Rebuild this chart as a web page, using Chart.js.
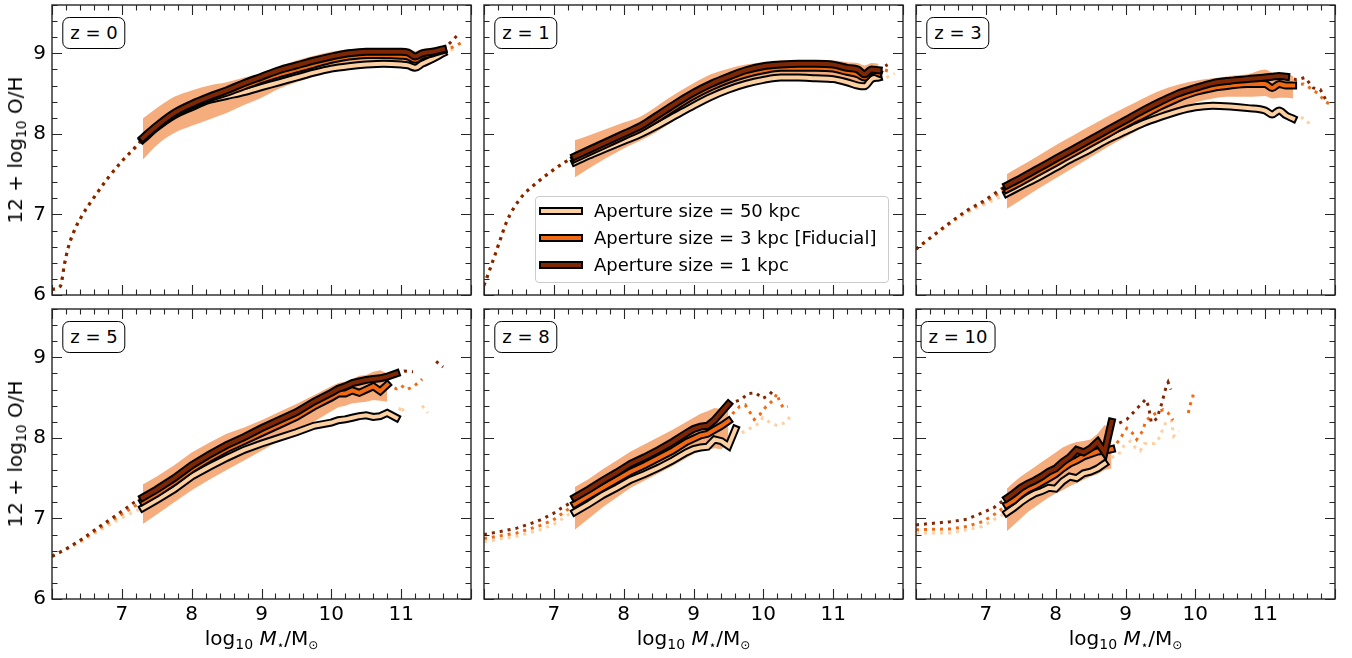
<!DOCTYPE html>
<html>
<head>
<meta charset="utf-8">
<script src="https://cdn.jsdelivr.net/npm/chart.js@4.4.1/dist/chart.umd.min.js"></script>
<style>
body { margin: 0; background: #fff; }
#fig { position: relative; width: 1352px; height: 658px; overflow: hidden; font-family: 'DejaVu Sans', sans-serif; color: #000; }
#fig canvas { position: absolute; }
.zlab { position: absolute; transform: translate(-50%, -50%); border: 1px solid #000; border-radius: 7px; padding: 0 7px; font-size: 18px; line-height: 30px; white-space: nowrap; background: #fff; }
.xt { position: absolute; transform: translateX(-50%); font-size: 20px; line-height: 20px; white-space: nowrap; }
.yt { position: absolute; transform: translate(-50%, -50%) rotate(-90deg); font-size: 20px; line-height: 20px; white-space: nowrap; }
sub { font-size: 14px; line-height: 0; vertical-align: -4px; }
.sym { font-size: 12px; line-height: 0; vertical-align: -4px; }
#legend { position: absolute; left: 535px; top: 196px; width: 354px; height: 87px; box-sizing: border-box; border: 1px solid #cccccc; border-radius: 4px; background: rgba(255,255,255,0.8); font-size: 18px; z-index: 5; }
#legend .row { position: absolute; left: 0; width: 100%; height: 20px; }
#legend .sw { position: absolute; left: 3px; top: 6px; width: 40px; height: 4px; border: 2px solid #000; }
#legend .tx { position: absolute; left: 58px; top: 0; line-height: 20px; white-space: nowrap; }
</style>
</head>
<body>
<div id="fig"></div>
<script>
// axis ticks
const xTicks = [7, 8, 9, 10, 11];
const yTicks = [6, 7, 8, 9];

// colours (Oranges)
const C_LIGHT = '#fdd0a2';   // 50 kpc
const C_MID = '#f16913';     // 3 kpc (fiducial)
const C_DARK = '#7f2704';    // 1 kpc
const SHADE = '#f6ad7d';

const legendLabels = ['Aperture size = 50 kpc', 'Aperture size = 3 kpc [Fiducial]', 'Aperture size = 1 kpc'];

// ---- z = 0 ----
const z0X     = [7.3, 7.5, 7.75, 8.0, 8.25, 8.5, 8.75, 9.0, 9.25, 9.5, 9.75, 10.0, 10.25, 10.5, 10.75, 11.0, 11.1, 11.2, 11.3, 11.45, 11.6];
const z0Dark  = [7.95, 8.10, 8.26, 8.37, 8.46, 8.54, 8.63, 8.71, 8.79, 8.85, 8.91, 8.96, 9.00, 9.02, 9.02, 9.02, 9.01, 8.96, 9.00, 9.02, 9.05];
const z0Mid   = [7.94, 8.09, 8.24, 8.35, 8.44, 8.51, 8.59, 8.67, 8.74, 8.80, 8.86, 8.92, 8.96, 8.98, 8.98, 8.97, 8.96, 8.92, 8.97, 9.00, 9.04];
const z0Light = [7.93, 8.08, 8.23, 8.33, 8.42, 8.47, 8.52, 8.58, 8.64, 8.70, 8.76, 8.81, 8.84, 8.86, 8.87, 8.86, 8.85, 8.82, 8.87, 8.93, 9.00];
const z0Hi    = [8.19, 8.32, 8.46, 8.54, 8.60, 8.64, 8.70, 8.75, 8.83, 8.91, 8.97, 9.02, 9.05, 9.06, 9.06, 9.06, 9.05, 9.03, 9.05, 9.07, 9.07];
const z0Lo    = [7.68, 7.86, 8.01, 8.10, 8.18, 8.26, 8.36, 8.45, 8.56, 8.64, 8.71, 8.78, 8.82, 8.85, 8.85, 8.85, 8.83, 8.79, 8.86, 8.93, 8.98];
const z0Left  = [[6.0, 6.07], [6.12, 6.11], [6.18, 6.39], [6.23, 6.58], [6.3, 6.76], [6.42, 6.97], [6.6, 7.21], [6.8, 7.45], [7.0, 7.66], [7.2, 7.84], [7.3, 7.94]];
const z0RightDark  = [[11.6, 9.05], [11.7, 9.13], [11.8, 9.22], [11.85, 9.25]];
const z0RightMid   = [[11.6, 9.04], [11.75, 9.08], [11.9, 9.15]];
const z0RightLight = [[11.6, 9.00], [11.7, 9.04], [11.8, 9.06]];

// ---- z = 1 ----
const z1X     = [7.3, 7.5, 7.75, 8.0, 8.25, 8.5, 8.75, 9.0, 9.25, 9.5, 9.75, 10.0, 10.25, 10.5, 10.75, 11.0, 11.2, 11.35, 11.45, 11.55, 11.65];
const z1Dark  = [7.72, 7.80, 7.90, 8.00, 8.10, 8.24, 8.38, 8.51, 8.62, 8.71, 8.79, 8.84, 8.86, 8.87, 8.87, 8.86, 8.82, 8.80, 8.74, 8.80, 8.79];
const z1Mid   = [7.69, 7.77, 7.87, 7.97, 8.07, 8.20, 8.34, 8.47, 8.58, 8.67, 8.74, 8.79, 8.82, 8.82, 8.82, 8.81, 8.77, 8.74, 8.70, 8.78, 8.75];
const z1Light = [7.65, 7.73, 7.82, 7.91, 8.00, 8.11, 8.23, 8.35, 8.46, 8.55, 8.62, 8.67, 8.70, 8.70, 8.69, 8.68, 8.64, 8.60, 8.59, 8.68, 8.70];
const z1Hi    = [7.92, 7.98, 8.06, 8.14, 8.22, 8.36, 8.50, 8.63, 8.74, 8.81, 8.86, 8.89, 8.91, 8.91, 8.91, 8.91, 8.89, 8.88, 8.85, 8.88, 8.87];
const z1Lo    = [7.46, 7.57, 7.70, 7.82, 7.92, 8.04, 8.18, 8.31, 8.43, 8.53, 8.60, 8.66, 8.69, 8.70, 8.70, 8.68, 8.64, 8.62, 8.62, 8.68, 8.70];
const z1Left  = [[6.0, 6.12], [6.06, 6.26], [6.13, 6.43], [6.23, 6.68], [6.32, 6.90], [6.42, 7.07], [6.56, 7.24], [6.71, 7.36], [6.85, 7.46], [7.02, 7.57], [7.18, 7.66], [7.3, 7.71]];
const z1RightDark  = [[11.65, 8.79], [11.72, 8.83], [11.78, 8.86]];
const z1RightMid   = [[11.65, 8.75], [11.72, 8.80], [11.85, 8.76]];
const z1RightLight = [[11.65, 8.70], [11.74, 8.69], [11.88, 8.75]];

// ---- z = 3 ----
const z3X     = [7.3, 7.5, 7.75, 8.0, 8.25, 8.5, 8.75, 9.0, 9.25, 9.5, 9.75, 10.0, 10.25, 10.5, 10.75, 11.0, 11.1, 11.2, 11.3, 11.4];
const z3Dark  = [7.36, 7.45, 7.57, 7.69, 7.81, 7.93, 8.05, 8.17, 8.29, 8.40, 8.50, 8.57, 8.63, 8.66, 8.68, 8.70, 8.71, 8.72, 8.71, null];
const z3Mid   = [7.31, 7.40, 7.52, 7.64, 7.76, 7.88, 8.00, 8.12, 8.23, 8.34, 8.44, 8.52, 8.57, 8.60, 8.62, 8.62, 8.57, 8.62, 8.60, 8.60];
const z3Light = [7.26, 7.35, 7.46, 7.58, 7.70, 7.81, 7.93, 8.03, 8.13, 8.21, 8.28, 8.33, 8.35, 8.34, 8.32, 8.29, 8.24, 8.29, 8.23, 8.19];
const z3Hi    = [7.50, 7.60, 7.73, 7.86, 7.98, 8.10, 8.22, 8.33, 8.44, 8.54, 8.61, 8.66, 8.69, 8.72, 8.74, 8.80, 8.76, 8.75, 8.74, 8.72];
const z3Lo    = [7.07, 7.18, 7.32, 7.45, 7.58, 7.71, 7.84, 7.96, 8.08, 8.20, 8.31, 8.39, 8.44, 8.46, 8.46, 8.47, 8.44, 8.45, 8.45, 8.44];
const z3LeftDark  = [[6.0, 6.57], [6.25, 6.74], [6.49, 6.90], [6.73, 7.05], [6.97, 7.17], [7.21, 7.31], [7.3, 7.36]];
const z3LeftMid   = [[6.0, 6.57], [6.25, 6.74], [6.49, 6.90], [6.73, 7.04], [6.97, 7.15], [7.21, 7.27], [7.3, 7.31]];
const z3LeftLight = [[6.0, 6.57], [6.25, 6.73], [6.49, 6.88], [6.73, 7.02], [6.97, 7.12], [7.21, 7.22], [7.3, 7.26]];
const z3RightDark  = [[11.3, 8.71], [11.45, 8.67], [11.57, 8.70], [11.69, 8.57], [11.79, 8.55], [11.87, 8.42]];
const z3RightMid   = [[11.4, 8.60], [11.55, 8.62], [11.66, 8.56], [11.76, 8.50], [11.86, 8.40], [11.95, 8.36]];
const z3RightLight = [[11.4, 8.19], [11.5, 8.21], [11.6, 8.17], [11.66, 8.07]];

// ---- z = 5 ----
const z5X     = [7.3, 7.5, 7.75, 8.0, 8.25, 8.5, 8.75, 9.0, 9.25, 9.5, 9.75, 10.0, 10.1, 10.2, 10.3, 10.4, 10.5, 10.6, 10.7, 10.8, 10.93];
const z5Dark  = [7.26, 7.36, 7.50, 7.66, 7.79, 7.91, 8.01, 8.12, 8.22, 8.32, 8.45, 8.56, 8.61, 8.64, 8.68, 8.70, 8.72, 8.73, 8.74, 8.76, 8.80];
const z5Mid   = [7.21, 7.31, 7.45, 7.61, 7.74, 7.86, 7.96, 8.06, 8.16, 8.26, 8.39, 8.50, 8.55, 8.55, 8.59, 8.56, 8.60, 8.64, 8.58, 8.66, null];
const z5Light = [7.13, 7.23, 7.36, 7.52, 7.64, 7.75, 7.85, 7.93, 8.00, 8.07, 8.15, 8.19, 8.22, 8.23, 8.25, 8.27, 8.28, 8.26, 8.27, 8.31, 8.25];
const z5Hi    = [7.42, 7.52, 7.66, 7.82, 7.94, 8.05, 8.13, 8.22, 8.32, 8.42, 8.53, 8.64, 8.68, 8.70, 8.73, 8.77, 8.78, 8.82, 8.84, 8.80, null];
const z5Lo    = [6.93, 7.05, 7.20, 7.35, 7.48, 7.60, 7.72, 7.84, 7.96, 8.06, 8.20, 8.33, 8.38, 8.40, 8.43, 8.44, 8.45, 8.47, 8.46, 8.45, null];
const z5LeftDark  = [[6.0, 6.53], [6.2, 6.62], [6.44, 6.75], [6.68, 6.90], [6.92, 7.04], [7.16, 7.19], [7.3, 7.26]];
const z5LeftMid   = [[6.0, 6.53], [6.2, 6.62], [6.44, 6.74], [6.68, 6.88], [6.92, 7.01], [7.16, 7.14], [7.3, 7.21]];
const z5LeftLight = [[6.0, 6.53], [6.2, 6.61], [6.44, 6.72], [6.68, 6.85], [6.92, 6.97], [7.16, 7.08], [7.3, 7.13]];
const z5RightDark  = [[10.93, 8.80], [11.05, 8.83], [11.17, 8.82], [11.3, null], [11.5, 8.95], [11.6, 8.88]];
const z5RightMid   = [[10.8, 8.66], [10.93, 8.61], [11.0, 8.65], [11.08, 8.60], [11.18, 8.64], [11.3, 8.73]];
const z5RightLight = [[10.93, 8.25], [11.0, 8.40], [11.06, 8.27], [11.2, null], [11.3, 8.40], [11.38, 8.31]];

// ---- z = 8 ----
const z8X     = [7.3, 7.5, 7.7, 7.9, 8.1, 8.3, 8.5, 8.7, 8.9, 9.0, 9.1, 9.2, 9.3, 9.4, 9.5, 9.6];
const z8Dark  = [7.26, 7.36, 7.47, 7.57, 7.68, 7.76, 7.85, 7.95, 8.06, 8.11, 8.14, 8.15, 8.22, 8.32, 8.42, null];
const z8Mid   = [7.18, 7.28, 7.38, 7.48, 7.58, 7.66, 7.75, 7.84, 7.95, 7.99, 8.03, 8.05, 8.10, 8.15, 8.21, null];
const z8Light = [7.08, 7.18, 7.29, 7.38, 7.48, 7.55, 7.63, 7.72, 7.82, 7.86, 7.88, 7.89, 7.98, 7.96, 7.90, 8.11];
const z8Hi    = [7.39, 7.49, 7.61, 7.72, 7.83, 7.92, 8.01, 8.10, 8.20, 8.25, 8.30, 8.33, 8.37, 8.36, 8.33, null];
const z8Lo    = [6.86, 7.00, 7.14, 7.26, 7.38, 7.47, 7.56, 7.65, 7.75, 7.80, 7.84, 7.85, 7.87, 7.86, 7.95, null];
const z8LeftDark  = [[6.0, 6.80], [6.25, 6.84], [6.47, 6.88], [6.68, 6.94], [6.8, 6.98], [6.99, 7.06], [7.11, 7.13], [7.23, 7.19], [7.3, 7.26]];
const z8LeftMid   = [[6.0, 6.75], [6.47, 6.82], [6.8, 6.91], [6.99, 6.98], [7.23, 7.13], [7.3, 7.18]];
const z8LeftLight = [[6.0, 6.71], [6.47, 6.78], [6.8, 6.86], [6.99, 6.92], [7.23, 7.06], [7.3, 7.08]];
const z8RightDark  = [[9.5, 8.42], [9.57, 8.44], [9.69, 8.48], [9.78, 8.55], [9.89, 8.56], [9.99, 8.49], [10.08, 8.53], [10.16, 8.61]];
const z8RightMid   = [[9.5, 8.21], [9.57, 8.31], [9.66, 8.39], [9.74, 8.41], [9.80, 8.33], [9.87, 8.23], [9.95, 8.29], [10.04, 8.39], [10.13, 8.46], [10.2, 8.55], [10.23, 8.45], [10.29, 8.37], [10.35, 8.39]];
const z8RightLight = [[9.6, 8.11], [9.66, 8.06], [9.74, 8.08], [9.85, 8.14], [9.94, 8.18], [9.99, 8.25], [10.08, 8.20], [10.2, 8.15], [10.31, 8.19], [10.38, 8.26]];

// ---- z = 10 ----
const z10X     = [7.3, 7.4, 7.5, 7.6, 7.7, 7.8, 7.9, 8.0, 8.1, 8.2, 8.3, 8.4, 8.5, 8.6, 8.7, 8.8];
const z10Dark  = [7.25, 7.31, 7.38, 7.43, 7.47, 7.52, 7.58, 7.62, 7.70, 7.76, 7.85, 7.82, 7.87, 7.95, 7.82, 8.20];
const z10Mid   = [7.17, 7.22, 7.30, 7.36, 7.40, 7.45, 7.50, 7.55, 7.62, 7.68, 7.72, 7.77, 7.80, 7.83, 7.84, 7.86];
const z10Light = [7.07, 7.13, 7.20, 7.26, 7.31, 7.34, 7.38, 7.37, 7.46, 7.52, 7.50, 7.56, 7.58, 7.62, 7.68, null];
const z10Hi    = [7.37, 7.45, 7.52, 7.58, 7.64, 7.70, 7.76, 7.82, 7.88, 7.92, 7.95, 7.96, 7.98, 8.05, 8.16, 8.10];
const z10Lo    = [6.84, 6.92, 7.00, 7.08, 7.14, 7.20, 7.26, 7.31, 7.35, 7.40, 7.44, 7.48, 7.52, 7.55, 7.60, 7.62];
const z10LeftDark  = [[6.0, 6.92], [6.49, 6.96], [6.73, 6.99], [6.92, 7.06], [7.11, 7.13], [7.23, 7.21], [7.3, 7.25]];
const z10LeftMid   = [[6.0, 6.86], [6.49, 6.87], [6.73, 6.90], [6.95, 6.96], [7.16, 7.07], [7.3, 7.17]];
const z10LeftLight = [[6.0, 6.82], [6.49, 6.82], [6.73, 6.86], [6.95, 6.90], [7.16, 7.01], [7.3, 7.07]];
const z10RightDark  = [[8.8, 8.20], [8.9, 8.18], [9.02, 8.23], [9.29, 8.48], [9.33, 8.39], [9.37, 8.19], [9.45, 8.24], [9.52, 8.43], [9.55, 8.53], [9.58, 8.63], [9.61, 8.69], [9.65, 8.60]];
const z10RightMid   = [[8.8, 7.86], [8.92, 7.98], [8.97, 8.06], [9.02, 8.12], [9.10, 8.06], [9.16, 7.98], [9.25, 8.09], [9.28, 8.19], [9.35, 8.26], [9.44, 8.31], [9.54, 8.35], [9.61, 8.31], [9.68, 8.22], [9.8, null], [9.90, 8.31], [9.92, 8.40], [9.96, 8.49], [9.98, 8.59]];
const z10RightLight = [[8.73, 7.68], [8.80, 7.76], [8.90, 7.79], [8.95, 7.88], [9.07, 7.96], [9.14, 7.88], [9.21, 7.84], [9.27, 7.93], [9.34, 7.93], [9.42, 7.93], [9.50, 8.02], [9.53, 8.11], [9.59, 8.21], [9.66, 8.21], [9.69, 8.02], [9.77, 8.08]];

const panels = [
    { col: 0, row: 0, label: 'z = 0', x: z0X, dark: z0Dark, mid: z0Mid, light: z0Light, hi: z0Hi, lo: z0Lo,
      left: [z0Left, z0Left, z0Left], right: [z0RightDark, z0RightMid, z0RightLight], smooth: true },
    { col: 1, row: 0, label: 'z = 1', x: z1X, dark: z1Dark, mid: z1Mid, light: z1Light, hi: z1Hi, lo: z1Lo,
      left: [z1Left, z1Left, z1Left], right: [z1RightDark, z1RightMid, z1RightLight], smooth: true },
    { col: 2, row: 0, label: 'z = 3', x: z3X, dark: z3Dark, mid: z3Mid, light: z3Light, hi: z3Hi, lo: z3Lo,
      left: [z3LeftDark, z3LeftMid, z3LeftLight], right: [z3RightDark, z3RightMid, z3RightLight], smooth: true },
    { col: 0, row: 1, label: 'z = 5', x: z5X, dark: z5Dark, mid: z5Mid, light: z5Light, hi: z5Hi, lo: z5Lo,
      left: [z5LeftDark, z5LeftMid, z5LeftLight], right: [z5RightDark, z5RightMid, z5RightLight], smooth: false },
    { col: 1, row: 1, label: 'z = 8', x: z8X, dark: z8Dark, mid: z8Mid, light: z8Light, hi: z8Hi, lo: z8Lo,
      left: [z8LeftDark, z8LeftMid, z8LeftLight], right: [z8RightDark, z8RightMid, z8RightLight], smooth: false },
    { col: 2, row: 1, label: 'z = 10', x: z10X, dark: z10Dark, mid: z10Mid, light: z10Light, hi: z10Hi, lo: z10Lo,
      left: [z10LeftDark, z10LeftMid, z10LeftLight], right: [z10RightDark, z10RightMid, z10RightLight], smooth: false }
];

// layout (page pixels)
const colLeft = [52, 484, 916];
const rowTop = [5, 309];
const plotW = 419, plotH = 290;
const padL = 52, padT = 5, padR = 6, padB = 55;

const fig = document.getElementById('fig');
const tickFont = { family: "'DejaVu Sans', sans-serif", size: 20 };

function pts(xs, ys) { return xs.map((x, i) => ({ x: x, y: ys[i] })); }
function pairs(arr) { return arr.map(p => ({ x: p[0], y: p[1] })); }

function lineSet(data, color, width, dotted, smooth) {
    return {
        data: data,
        borderColor: color,
        backgroundColor: color,
        borderWidth: width,
        borderDash: dotted ? [3, 5] : [],
        borderCapStyle: dotted ? 'butt' : 'square',
        borderJoinStyle: 'miter',
        pointRadius: 0,
        pointHoverRadius: 0,
        fill: false,
        spanGaps: false,
        clip: 0,
        cubicInterpolationMode: smooth ? 'monotone' : 'default',
        tension: 0
    };
}

// fixed axis boxes so every panel gets the same plot area
function fixBox(s, size) {
    if (s.isHorizontal()) s.height = size; else s.width = size;
    s.paddingTop = 0; s.paddingBottom = 0; s.paddingLeft = 0; s.paddingRight = 0;
}

// inward ticks on all four sides + frame
const frameTicks = {
    id: 'frameTicks',
    afterDraw(chart) {
        const { ctx, chartArea: a } = chart;
        const sx = chart.scales.x, sy = chart.scales.y;
        ctx.save();
        ctx.strokeStyle = '#262626';
        ctx.lineWidth = 1.1;
        ctx.beginPath();
        for (let i = 30; i <= 60; i++) {
            const px = Math.round(sx.getPixelForValue(i / 5)) + 0.5;
            const len = i % 5 === 0 ? 10 : 5.5;
            ctx.moveTo(px, a.bottom); ctx.lineTo(px, a.bottom - len);
            ctx.moveTo(px, a.top); ctx.lineTo(px, a.top + len);
        }
        for (let i = 30; i <= 48; i++) {
            const py = Math.round(sy.getPixelForValue(i / 5)) + 0.5;
            const len = i % 5 === 0 ? 10 : 5.5;
            ctx.moveTo(a.left, py); ctx.lineTo(a.left + len, py);
            ctx.moveTo(a.right, py); ctx.lineTo(a.right - len, py);
        }
        ctx.stroke();
        ctx.lineWidth = 1.4;
        ctx.strokeRect(a.left, a.top, a.right - a.left, a.bottom - a.top);
        ctx.restore();
    }
};

panels.forEach(function (p) {
    const PL = colLeft[p.col], PT = rowTop[p.row];
    const cv = document.createElement('canvas');
    cv.width = padL + plotW + padR;
    cv.height = padT + plotH + padB;
    cv.style.left = (PL - padL) + 'px';
    cv.style.top = (PT - padT) + 'px';
    fig.appendChild(cv);

    const ds = [];
    ds.push(lineSet(pts(p.x, p.lo), 'rgba(0,0,0,0)', 1, false, p.smooth));
    const band = lineSet(pts(p.x, p.hi), 'rgba(0,0,0,0)', 1, false, p.smooth);
    band.fill = '-1';
    band.backgroundColor = SHADE;
    ds.push(band);

    // dotted extensions (light below, dark on top)
    const dotCols = [C_DARK, C_MID, C_LIGHT];
    [2, 1, 0].forEach(function (k) {
        ds.push(lineSet(pairs(p.left[k]), dotCols[k], 3, true, p.smooth));
        ds.push(lineSet(pairs(p.right[k]), dotCols[k], 3, true, false));
    });

    // outlined medians
    [[p.light, C_LIGHT], [p.mid, C_MID], [p.dark, C_DARK]].forEach(function (s) {
        ds.push(lineSet(pts(p.x, s[0]), '#000', 8, false, p.smooth));
        ds.push(lineSet(pts(p.x, s[0]), s[1], 4, false, p.smooth));
    });
    ds.forEach((d, i) => { d.order = ds.length - i; });

    const showX = p.row === 1, showY = p.col === 0;
    new Chart(cv, {
        type: 'line',
        data: { datasets: ds },
        options: {
            responsive: false,
            animation: false,
            devicePixelRatio: 1,
            events: [],
            layout: { padding: { top: padT, right: padR, left: 0, bottom: 0 } },
            plugins: { legend: { display: false }, tooltip: { enabled: false } },
            scales: {
                x: {
                    type: 'linear', min: 6, max: 12,
                    grid: { display: false, drawTicks: false },
                    border: { display: false },
                    ticks: { display: showX, padding: 4, font: tickFont, color: '#000', maxRotation: 0, autoSkip: false },
                    afterBuildTicks: s => { s.ticks = xTicks.map(v => ({ value: v })); },
                    afterFit: s => fixBox(s, padB)
                },
                y: {
                    type: 'linear', min: 6, max: 9.6,
                    grid: { display: false, drawTicks: false },
                    border: { display: false },
                    ticks: { display: showY, padding: 6, font: tickFont, color: '#000', autoSkip: false },
                    afterBuildTicks: s => { s.ticks = yTicks.map(v => ({ value: v })); },
                    afterFit: s => fixBox(s, padL)
                }
            }
        },
        plugins: [frameTicks]
    });

    // redshift label
    const zl = document.createElement('div');
    zl.className = 'zlab';
    zl.textContent = p.label;
    zl.style.left = (PL + 42) + 'px';
    zl.style.top = (PT + 28) + 'px';
    fig.appendChild(zl);

    if (showX) {
        const xt = document.createElement('div');
        xt.className = 'xt';
        xt.innerHTML = 'log<sub>10</sub> <i>M</i><span class="sym">\u22C6</span>/M<span class="sym">\u2299</span>';
        xt.style.left = (PL + plotW / 2) + 'px';
        xt.style.top = '628px';
        fig.appendChild(xt);
    }
    if (showY) {
        const yt = document.createElement('div');
        yt.className = 'yt';
        yt.innerHTML = '12 + log<sub>10</sub> O/H';
        yt.style.left = '15px';
        yt.style.top = (PT + plotH / 2) + 'px';
        fig.appendChild(yt);
    }
});

// legend (inside the z = 1 panel)
const lg = document.createElement('div');
lg.id = 'legend';
[C_LIGHT, C_MID, C_DARK].forEach(function (c, i) {
    const row = document.createElement('div');
    row.className = 'row';
    row.style.top = (4 + i * 27) + 'px';
    const sw = document.createElement('div');
    sw.className = 'sw';
    sw.style.background = c;
    const tx = document.createElement('div');
    tx.className = 'tx';
    tx.textContent = legendLabels[i];
    row.appendChild(sw);
    row.appendChild(tx);
    lg.appendChild(row);
});
fig.appendChild(lg);
</script>
</body>
</html>
